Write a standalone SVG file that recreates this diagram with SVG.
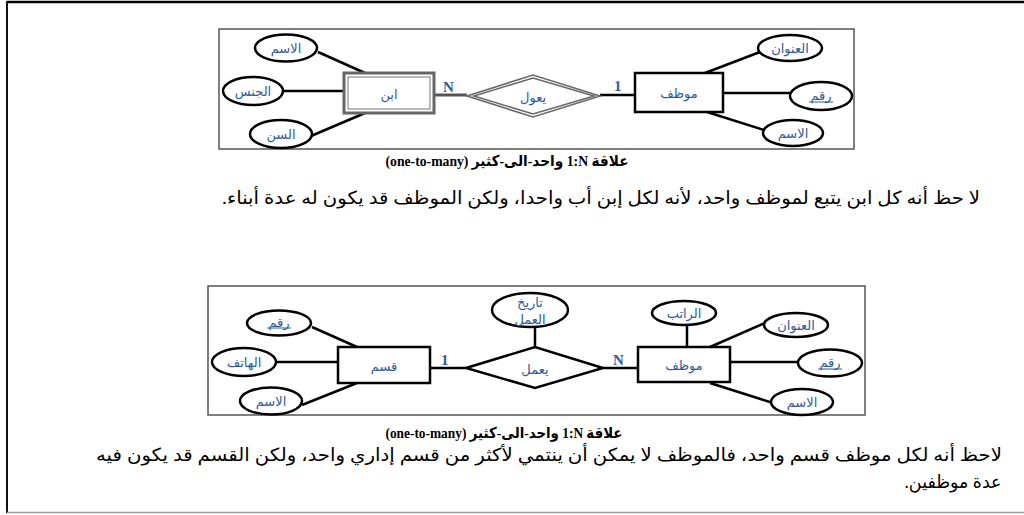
<svg xmlns="http://www.w3.org/2000/svg" width="1024" height="515" viewBox="0 0 1024 515">
<style>
.frame{fill:none;stroke:#555;stroke-width:1.5}
.ent{fill:#fff;stroke:#000;stroke-width:2.5}
.att{fill:#fff;stroke:#000;stroke-width:2.5}
.ln{stroke:#000;stroke-width:2.5;fill:none}
.wk{fill:none;stroke:#6a6a6a;stroke-width:1.6}
.wln{stroke:#555;stroke-width:3;fill:none}
.lbl{font-family:"DejaVu Sans","Noto Sans",sans-serif;font-size:13px;fill:#2e5a9c;text-anchor:middle;dominant-baseline:central}
.ul{stroke:#2e5a9c;stroke-width:1}
.card{font-family:"Liberation Serif",serif;font-size:15px;font-weight:bold;fill:#2e5a9c}
.cap{font-family:"Liberation Serif","DejaVu Sans",serif;font-size:15px;font-weight:bold;fill:#000}
.para{font-family:"Liberation Serif","DejaVu Sans",serif;font-size:18px;fill:#000}
</style>
<rect width="1024" height="515" fill="#fff"/>
<g id="page-frame">
<line x1="7" y1="2" x2="1024" y2="2" stroke="#000" stroke-width="2.5"/>
<line x1="7" y1="1" x2="7" y2="513" stroke="#111" stroke-width="2"/>
<line x1="7" y1="512.5" x2="1024" y2="512.5" stroke="#999" stroke-width="1.5"/>
</g>

<!-- ===== Diagram 1 ===== -->
<g id="diagram1-frame"><rect class="frame" x="219" y="29" width="635" height="120"/></g>
<g id="connectors1">
<line class="ln" x1="318" y1="52" x2="365" y2="73"/>
<line class="ln" x1="283" y1="91" x2="344" y2="91"/>
<line class="ln" x1="311" y1="136" x2="365" y2="113"/>
<line class="wln" x1="434" y1="95" x2="467" y2="95"/>
<line class="ln" x1="600" y1="95" x2="635" y2="95"/>
<line class="ln" x1="705" y1="73" x2="760" y2="52"/>
<line class="ln" x1="723" y1="93" x2="790" y2="93"/>
<line class="ln" x1="707" y1="112" x2="767" y2="131"/>
</g>
<g id="son">
<rect x="344" y="73" width="90" height="40" fill="#fff" stroke="#666" stroke-width="3"/>
<rect x="348" y="77" width="82" height="32" fill="#fff" stroke="#777" stroke-width="1"/>
<text class="lbl" x="389" y="94">ابن</text>
</g>
<g id="son-name"><ellipse class="att" cx="286" cy="48" rx="31" ry="13.5"/><text class="lbl" x="286" y="48">الاسم</text></g>
<g id="son-gender"><ellipse class="att" cx="253" cy="91" rx="30" ry="14"/><text class="lbl" x="253" y="91">الجنس</text></g>
<g id="son-age"><ellipse class="att" cx="281" cy="134" rx="31" ry="14"/><text class="lbl" x="281" y="134">السن</text></g>
<g id="supports">
<polygon class="wk" points="467,96 533,75 600,96 533,117" fill="#fff"/>
<polygon class="wk" points="474,96 533,78 594,96 533,114"/>
<text class="lbl" x="533" y="97">يعول</text>
</g>
<text class="card" x="443" y="92">N</text>
<text class="card" x="614" y="91">1</text>
<g id="employee1">
<rect class="ent" x="635" y="73" width="88" height="39"/>
<text class="lbl" x="679" y="93">موظف</text>
</g>
<g id="emp1-address"><ellipse class="att" cx="790" cy="48" rx="32" ry="13"/><text class="lbl" x="790" y="48">العنوان</text></g>
<g id="emp1-id"><ellipse class="att" cx="821" cy="96" rx="31" ry="14"/><text class="lbl" x="821" y="95">رقم</text><line class="ul" x1="809" y1="102" x2="833" y2="102"/></g>
<g id="emp1-name"><ellipse class="att" cx="793" cy="133" rx="30" ry="13"/><text class="lbl" x="793" y="133">الاسم</text></g>

<text class="cap" x="507" y="166" direction="rtl" text-anchor="middle" textLength="243" lengthAdjust="spacingAndGlyphs">علاقة &#x202A;1:N&#x202C; واحد-الى-كثير (one-to-many)</text>
<text class="para" x="601" y="204" direction="rtl" text-anchor="middle" textLength="758" lengthAdjust="spacingAndGlyphs">لا حظ أنه كل ابن يتبع لموظف واحد، لأنه لكل إبن أب واحدا، ولكن الموظف قد يكون له عدة أبناء.</text>

<!-- ===== Diagram 2 ===== -->
<g id="diagram2-frame"><rect class="frame" x="208" y="286" width="657" height="129"/></g>
<g id="connectors2">
<line class="ln" x1="312" y1="327" x2="357" y2="347"/>
<line class="ln" x1="277" y1="362" x2="338" y2="362"/>
<line class="ln" x1="302" y1="405" x2="357" y2="383"/>
<line class="ln" x1="430" y1="368" x2="466" y2="368"/>
<line class="ln" x1="535" y1="327" x2="535" y2="347"/>
<line class="ln" x1="603" y1="368" x2="638" y2="368"/>
<line class="ln" x1="687" y1="325" x2="687" y2="347"/>
<line class="ln" x1="710" y1="347" x2="765" y2="323"/>
<line class="ln" x1="730" y1="362" x2="798" y2="362"/>
<line class="ln" x1="710" y1="383" x2="773" y2="403"/>
</g>
<g id="department">
<rect class="ent" x="338" y="347" width="92" height="36"/>
<text class="lbl" x="384" y="366">قسم</text>
</g>
<g id="dept-id"><ellipse class="att" cx="279" cy="323" rx="32" ry="12.5"/><text class="lbl" x="279" y="322">رقم</text><line class="ul" x1="267" y1="328" x2="291" y2="328"/></g>
<g id="dept-phone"><ellipse class="att" cx="244" cy="362" rx="32" ry="14"/><text class="lbl" x="244" y="362">الهاتف</text></g>
<g id="dept-name"><ellipse class="att" cx="271" cy="401" rx="31" ry="13.5"/><text class="lbl" x="271" y="401">الاسم</text></g>
<g id="works">
<polygon class="ln" points="466,368 535,347 603,368 535,388" fill="#fff"/>
<text class="lbl" x="535" y="369">يعمل</text>
</g>
<g id="work-date">
<ellipse class="att" cx="530" cy="310" rx="38" ry="17"/>
<text class="lbl" x="530" y="302">تاريخ</text>
<text class="lbl" x="530" y="319">العمل</text>
</g>
<text class="card" x="441" y="365">1</text>
<text class="card" x="613" y="365">N</text>
<g id="employee2">
<rect class="ent" x="638" y="347" width="92" height="35"/>
<text class="lbl" x="684" y="365">موظف</text>
</g>
<g id="emp2-salary"><ellipse class="att" cx="684" cy="313" rx="32" ry="12"/><text class="lbl" x="684" y="313">الراتب</text></g>
<g id="emp2-address"><ellipse class="att" cx="796" cy="325" rx="32" ry="12"/><text class="lbl" x="796" y="325">العنوان</text></g>
<g id="emp2-id"><ellipse class="att" cx="830" cy="363" rx="32" ry="13.5"/><text class="lbl" x="830" y="362">رقم</text><line class="ul" x1="818" y1="369" x2="842" y2="369"/></g>
<g id="emp2-name"><ellipse class="att" cx="802" cy="402" rx="31" ry="13"/><text class="lbl" x="802" y="402">الاسم</text></g>

<text class="cap" x="504" y="438" direction="rtl" text-anchor="middle" textLength="237" lengthAdjust="spacingAndGlyphs">علاقة &#x202A;1:N&#x202C; واحد-الى-كثير (one-to-many)</text>
<text class="para" x="549" y="461" direction="rtl" text-anchor="middle" textLength="906" lengthAdjust="spacingAndGlyphs">لاحظ أنه لكل موظف قسم واحد، فالموظف لا يمكن أن ينتمي لأكثر من قسم إداري واحد، ولكن القسم قد يكون فيه</text>
<text class="para" x="953" y="488" direction="rtl" text-anchor="middle" textLength="97" lengthAdjust="spacingAndGlyphs">عدة موظفين.</text>
</svg>
